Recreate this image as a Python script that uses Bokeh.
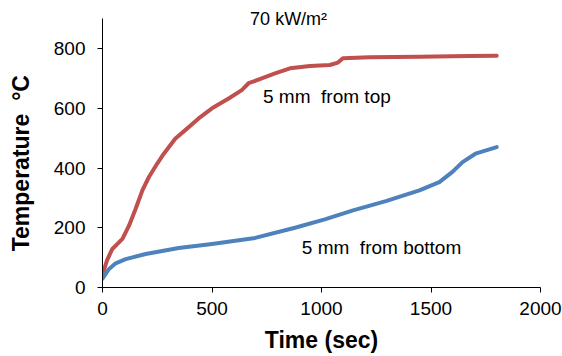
from bokeh.plotting import figure
from bokeh.models import Range1d, FixedTicker, Label
from bokeh.embed import file_html
from bokeh.resources import INLINE

# Data
t_top = [0, 8, 21, 45, 68, 91, 121, 151, 182, 212, 250, 280, 333, 378, 439, 500, 576, 636, 667, 727,
         788, 856, 947, 1038, 1075, 1098, 1219, 1447, 1674, 1800]
T_top = [45, 62, 92, 129, 146, 163, 207, 263, 325, 370, 415, 448, 499, 527, 566, 600, 633, 661, 684, 700,
         717, 734, 742, 745, 753, 768, 771, 773, 775, 776]

t_bot = [0, 30, 60, 106, 197, 348, 500, 697, 879, 1015, 1144, 1294, 1447, 1538, 1598, 1644, 1703, 1800]
T_bot = [30, 62, 81, 95, 112, 132, 146, 166, 200, 228, 258, 289, 325, 353, 387, 420, 448, 470]

x_ticks = [0, 500, 1000, 1500, 2000]
y_ticks = [0, 200, 400, 600, 800]

FONT = "Liberation Sans"

p = figure(width=562, height=356, output_backend="svg", toolbar_location=None,
           x_range=Range1d(0, 2000), y_range=Range1d(0, 961),
           min_border_left=102, min_border_right=22, min_border_top=0, min_border_bottom=69)
p.outline_line_color = None
p.xgrid.visible = False
p.ygrid.visible = False
p.background_fill_color = "white"
p.border_fill_color = "white"

p.line(t_top, T_top, line_color="#C0504D", line_width=4, line_join="round", line_cap="round")
p.line(t_bot, T_bot, line_color="#4F81BD", line_width=4, line_join="round", line_cap="round")

for ax in (p.xaxis[0], p.yaxis[0]):
    ax.axis_line_color = "black"
    ax.major_tick_line_color = "black"
    ax.minor_tick_line_color = None
    ax.major_tick_in = 0
    ax.major_tick_out = 5
    ax.major_label_text_font = FONT
    ax.major_label_text_font_size = "19px"
    ax.major_label_text_color = "black"
    ax.axis_label_text_font = FONT
    ax.axis_label_text_font_style = "bold"
    ax.axis_label_text_font_size = "23px"
    ax.axis_label_text_color = "black"

p.yaxis.bounds = (0, 900)
p.xaxis.ticker = FixedTicker(ticks=x_ticks)
p.yaxis.ticker = FixedTicker(ticks=y_ticks)
p.xaxis.major_label_standoff = 9
p.yaxis.major_label_standoff = 12
p.xaxis.axis_label = "Time (sec)"
p.yaxis.axis_label = "Temperature\u00a0\u00a0°C" + "\u00a0" * 6
p.xaxis.axis_label_standoff = 9
p.yaxis.axis_label_standoff = 17

p.add_layout(Label(x=674, y=867, text="70 kW/m²", text_font=FONT, text_font_size="18px",
                   text_color="black"))
p.add_layout(Label(x=733, y=606, text="5 mm\u00a0 from top", text_font=FONT, text_font_size="19px",
                   text_color="black"))
p.add_layout(Label(x=910, y=100, text="5 mm\u00a0 from bottom", text_font=FONT, text_font_size="19px",
                   text_color="black"))

open("out.html", "w").write(file_html(p, INLINE))
